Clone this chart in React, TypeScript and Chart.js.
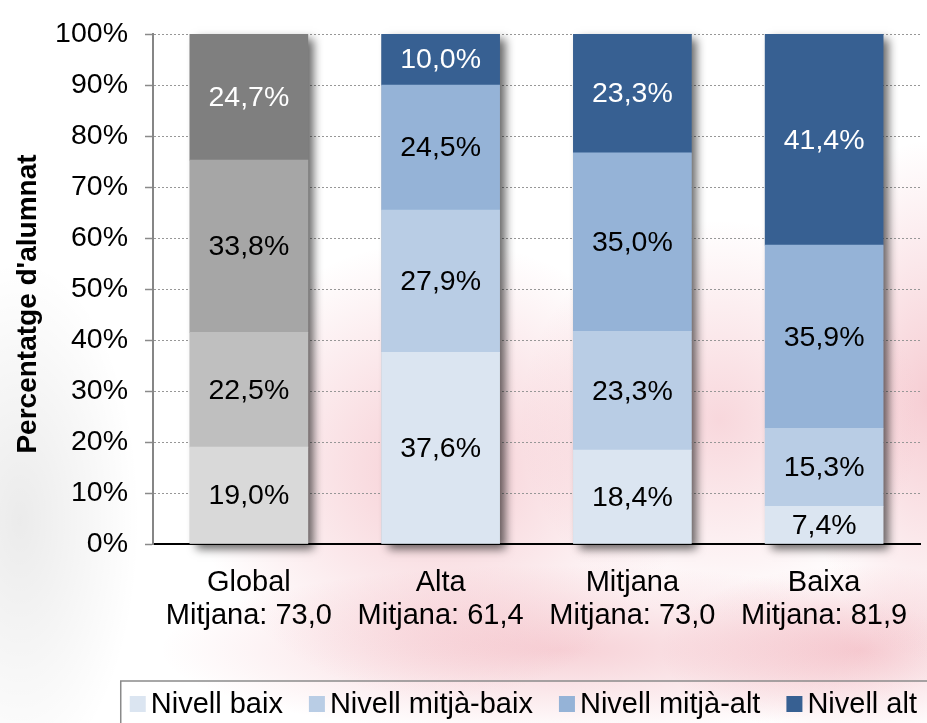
import React, { useEffect, useRef } from 'react';
import { Chart, registerables } from 'chart.js';

Chart.register(...registerables);

// ---- data ----
const CATEGORIES = ['Global', 'Alta', 'Mitjana', 'Baixa'];
const MEANS = [73.0, 61.4, 73.0, 81.9];
const LEVELS = ['Nivell baix', 'Nivell mitjà-baix', 'Nivell mitjà-alt', 'Nivell alt'];
const NIVELL_BAIX = [19.0, 37.6, 18.4, 7.4];
const NIVELL_MITJA_BAIX = [22.5, 27.9, 23.3, 15.3];
const NIVELL_MITJA_ALT = [33.8, 24.5, 35.0, 35.9];
const NIVELL_ALT = [24.7, 10.0, 23.3, 41.4];
const SERIES = [NIVELL_BAIX, NIVELL_MITJA_BAIX, NIVELL_MITJA_ALT, NIVELL_ALT];
const Y_MIN = 0;
const Y_MAX = 100;
const Y_STEP = 10;

// ---- styles ----
const GRAYS = ['#d9d9d9', '#bfbfbf', '#a6a6a6', '#7f7f7f'];
const BLUES = ['#dbe5f1', '#b9cde5', '#95b3d7', '#376092'];
const LABEL_COLORS = ['#000000', '#000000', '#000000', '#ffffff'];
const FONT_FAMILY = '"Liberation Sans", Arial, sans-serif';

const fmt = (v: number) => v.toFixed(1).replace('.', ',');

const shadowPlugin = {
  id: 'barShadow',
  beforeDatasetsDraw(chart: any) {
    const ctx = chart.ctx;
    const n = chart.data.labels.length;
    const metas = chart.data.datasets.map((_: any, i: number) => chart.getDatasetMeta(i));
    ctx.save();
    ctx.shadowColor = 'rgba(0,0,0,0.6)';
    ctx.shadowBlur = 9;
    ctx.shadowOffsetX = 6;
    ctx.shadowOffsetY = 5;
    ctx.fillStyle = '#999999';
    for (let i = 0; i < n; i++) {
      let top = Infinity;
      let bottom = -Infinity;
      let x = 0;
      let w = 0;
      metas.forEach((m: any) => {
        const el = m.data[i];
        if (!el) return;
        const p = el.getProps(['x', 'y', 'base', 'width'], true);
        top = Math.min(top, p.y, p.base);
        bottom = Math.max(bottom, p.y, p.base);
        x = p.x;
        w = p.width;
      });
      ctx.fillRect(x - w / 2, top, w, bottom - top);
    }
    ctx.restore();
  },
};

const valueLabelPlugin = {
  id: 'valueLabels',
  afterDatasetsDraw(chart: any) {
    const ctx = chart.ctx;
    ctx.save();
    ctx.font = `28.5px ${FONT_FAMILY}`;
    ctx.textAlign = 'center';
    ctx.textBaseline = 'middle';
    chart.data.datasets.forEach((ds: any, di: number) => {
      const meta = chart.getDatasetMeta(di);
      meta.data.forEach((el: any, i: number) => {
        const p = el.getProps(['x', 'y', 'base'], true);
        ctx.fillStyle = LABEL_COLORS[di];
        ctx.fillText(fmt(ds.data[i]) + '%', p.x, (p.y + p.base) / 2 + 1);
      });
    });
    ctx.restore();
  },
};

const decorPlugin = {
  id: 'decor',
  afterDraw(chart: any) {
    const ctx = chart.ctx;
    const W = chart.width;
    const H = chart.height;
    // y-axis title
    ctx.save();
    ctx.font = `bold 28px ${FONT_FAMILY}`;
    ctx.fillStyle = '#000';
    ctx.textAlign = 'center';
    ctx.textBaseline = 'middle';
    ctx.translate(28, 304);
    ctx.rotate(-Math.PI / 2);
    ctx.fillText("Percentatge d'alumnat", 0, 0);
    ctx.restore();

    // legend
    ctx.save();
    ctx.font = `29px ${FONT_FAMILY}`;
    const box = 16;
    const gapBT = 5;
    const gapItem = 26;
    const widths = LEVELS.map((t) => ctx.measureText(t).width);
    const total =
      widths.reduce((a, b) => a + b, 0) + LEVELS.length * (box + gapBT) + (LEVELS.length - 1) * gapItem;
    let x = W - 10 - total;
    const cy = 704;
    ctx.strokeStyle = '#8a8a8a';
    ctx.lineWidth = 1.5;
    ctx.beginPath();
    ctx.moveTo(x - 9, H);
    ctx.lineTo(x - 9, 681);
    ctx.lineTo(W, 681);
    ctx.stroke();
    ctx.textBaseline = 'middle';
    ctx.textAlign = 'left';
    LEVELS.forEach((t, i) => {
      ctx.fillStyle = BLUES[i];
      ctx.fillRect(x, cy - box / 2, box, box);
      x += box + gapBT;
      ctx.fillStyle = '#000';
      ctx.fillText(t, x, cy + 1);
      x += widths[i] + gapItem;
    });
    ctx.restore();
  },
};

export default function App() {
  const ref = useRef<HTMLCanvasElement | null>(null);

  useEffect(() => {
    if (!ref.current) return;
    const datasets = SERIES.map((data, si) => ({
      label: LEVELS[si],
      data,
      backgroundColor: CATEGORIES.map((_, ci) => (ci === 0 ? GRAYS[si] : BLUES[si])),
      borderWidth: 0,
      barThickness: 118,
    }));
    const chart = new Chart(ref.current, {
      type: 'bar',
      data: {
        labels: CATEGORIES.map((c, i) => [c, `Mitjana: ${fmt(MEANS[i])}`]),
        datasets,
      },
      plugins: [shadowPlugin, valueLabelPlugin, decorPlugin],
      options: {
        animation: false,
        responsive: false,
        maintainAspectRatio: false,
        layout: { padding: { top: 22, right: 7, bottom: 79, left: 0 } },
        plugins: {
          legend: { display: false },
          tooltip: { enabled: false },
          title: { display: false },
        },
        scales: {
          x: {
            stacked: true,
            grid: { display: false },
            border: { display: true, color: '#000000', width: 2 },
            ticks: {
              color: '#000000',
              padding: 14,
              font: { family: FONT_FAMILY, size: 29, lineHeight: 1.14 },
              maxRotation: 0,
              autoSkip: false,
            },
            afterFit: (scale: any) => {
              scale.height = 100;
            },
          },
          y: {
            stacked: true,
            min: Y_MIN,
            max: Y_MAX,
            grid: {
              color: (ctx: any) => (ctx.tick && ctx.tick.value === 0 ? 'rgba(0,0,0,0)' : '#979797'),
              lineWidth: 1,
              tickLength: 8,
              tickColor: '#8a8a8a',
              tickWidth: 1.5,
              drawTicks: true,
            },
            border: { display: true, color: '#868686', width: 2, dash: [2, 2] },
            ticks: {
              stepSize: Y_STEP,
              color: '#000000',
              padding: 17,
              font: { family: FONT_FAMILY, size: 28.5 },
              callback: (v: any) => `${v}%`,
            },
            afterFit: (scale: any) => {
              scale.width = 153;
            },
          },
        },
      },
    });
    return () => chart.destroy();
  }, []);

  const background = [
    'radial-gradient(ellipse 250px 230px at 440px 470px, rgba(226,90,110,0.30), rgba(226,90,110,0) 100%)',
    'radial-gradient(ellipse 200px 200px at 720px 420px, rgba(226,90,110,0.24), rgba(226,90,110,0) 100%)',
    'radial-gradient(ellipse 130px 260px at 927px 400px, rgba(226,90,110,0.30), rgba(226,90,110,0) 100%)',
    'radial-gradient(ellipse 400px 85px at 560px 650px, rgba(226,90,110,0.28), rgba(226,90,110,0) 100%)',
    'radial-gradient(ellipse 200px 85px at 860px 650px, rgba(226,90,110,0.28), rgba(226,90,110,0) 100%)',
    'radial-gradient(ellipse 120px 260px at 20px 520px, rgba(0,0,0,0.08), rgba(0,0,0,0) 100%)',
  ].join(',');

  return (
    <div
      style={{
        position: 'fixed',
        left: 0,
        top: 0,
        width: 927,
        height: 723,
        background: `${background}, #ffffff`,
      }}
    >
      <canvas ref={ref} width={927} height={723} style={{ display: 'block', width: 927, height: 723 }} />
    </div>
  );
}
